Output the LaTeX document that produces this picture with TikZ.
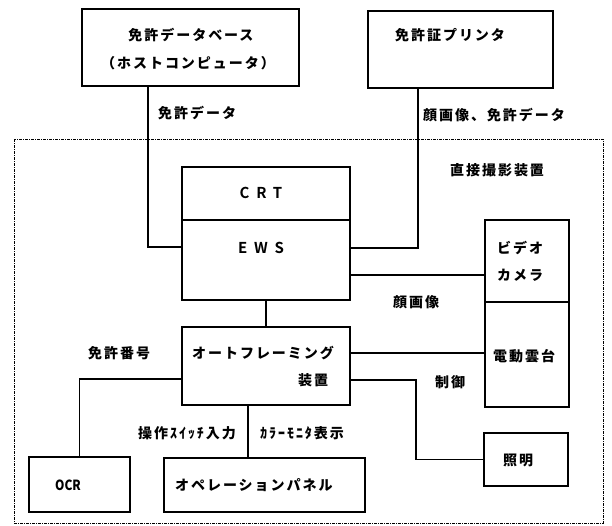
\documentclass[tikz,border=0pt]{standalone}
\usepackage{fontspec}
\newfontfamily\jp{Noto Sans CJK JP Black}[LetterSpace=14]
\newfontfamily\jpn{Noto Sans CJK JP Black}
\newfontfamily\jpw{Noto Sans CJK JP Bold}[LetterSpace=45]
\begin{document}
\begin{tikzpicture}[x=1pt,y=-1pt,
  box/.style={draw,line width=1.1pt,inner sep=0pt},
  lbl/.style={anchor=west,inner sep=0pt,font={\jp\fontsize{14}{16}\selectfont}},
  clbl/.style={inner sep=0pt,font={\jp\fontsize{14}{16}\selectfont}},
  wlbl/.style={inner sep=0pt,font={\jpw\fontsize{15}{17}\selectfont}},
  wire/.style={line width=1.1pt},
  frame/.style={line width=0.9pt,dash pattern=on 3pt off 1pt on 1pt off 1pt}]
\useasboundingbox (0,0) rectangle (612,525);
% dashed enclosure
\draw[frame] (14,139) rectangle (603,523);
% boxes
\node[box,minimum width=217pt,minimum height=77pt] (db) at (190.5,47.5) {};
\node[box,minimum width=185pt,minimum height=77pt] (pr) at (460.5,49.5) {};
\node[box,minimum width=168pt,minimum height=53pt] (crt) at (266,193.5) {};
\node[box,minimum width=168pt,minimum height=80pt] (ews) at (266,260) {};
\node[box,minimum width=84pt,minimum height=82pt] (cam) at (527,261) {};
\node[box,minimum width=84pt,minimum height=105pt] (pt) at (527,354.5) {};
\node[box,minimum width=168pt,minimum height=78pt] (af) at (266,366) {};
\node[box,minimum width=101pt,minimum height=55pt] (ocr) at (79.5,484.5) {};
\node[box,minimum width=201pt,minimum height=54pt] (op) at (264.5,485) {};
\node[box,minimum width=84pt,minimum height=53pt] (lt) at (526,459.5) {};
% texts in boxes
\node[clbl] (t1) at (191,35) {免許データベース};
\node[clbl] (t2) at (188,63) {（ホストコンピュータ）};
\node[lbl] (t3) at (395,35) {免許証プリンタ};
\node[wlbl] (t4) at (261,193) {CRT};
\node[wlbl] (t5) at (261,248) {EWS};
\node[lbl] (t6) at (497,248) {ビデオ};
\node[lbl] (t7) at (497,275) {カメラ};
\node[lbl] (t8) at (493,356) {電動雲台};
\node[lbl] (t9) at (192,353) {オートフレーミング};
\node[lbl] (t10) at (298,380) {装置};
\node[inner sep=0pt,anchor=west,xscale=0.85,font={\jpn\fontsize{14}{16}\selectfont}] (t11) at (55,485) {OCR};
\node[lbl] (t12) at (175,485) {オペレーションパネル};
\node[lbl] (t13) at (503,460) {照明};
% connector labels
\node[lbl] (l1) at (158,113) {免許データ};
\node[lbl] (l2) at (423,115) {顔画像、免許データ};
\node[lbl] (l3) at (450,170) {直接撮影装置};
\node[lbl] (l4) at (393,302) {顔画像};
\node[lbl] (l5) at (88,353) {免許番号};
\node[lbl] (l6) at (435,382) {制御};
\node[lbl] (l7) at (138,433) {操作ｽｲｯﾁ入力};
\node[lbl] (l8) at (260,433) {ｶﾗｰﾓﾆﾀ表示};
% connectors
\coordinate (jl) at (148,247);
\draw[wire] (db.south -| jl) |- (ews.west |- jl);
\coordinate (jr) at (418,248);
\draw[wire] (pr.south -| jr) |- (ews.east |- jr);
\coordinate (jc) at (0,275);
\draw[wire] (ews.east |- jc) -- (cam.west |- jc);
\draw[wire] (ews.south) -- (af.north);
\coordinate (jp) at (0,353);
\draw[wire] (af.east |- jp) -- (pt.west |- jp);
\coordinate (jlt) at (416,380);
\draw[wire] (af.east |- jlt) -- (jlt) |- (lt.west);
\coordinate (jo) at (79.5,379);
\draw[wire] (ocr.north) |- (af.west |- jo);
\coordinate (jop) at (248,0);
\draw[wire] (af.south -| jop) -- (op.north -| jop);
\end{tikzpicture}
\end{document}
